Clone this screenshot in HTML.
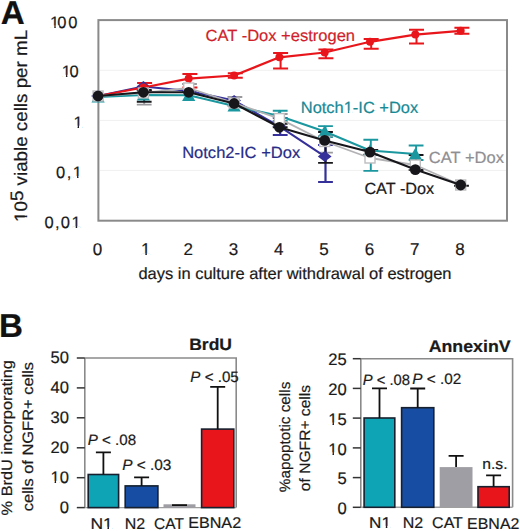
<!DOCTYPE html>
<html><head><meta charset="utf-8"><title>Figure</title><style>
html,body{margin:0;padding:0;background:#fff;width:520px;height:531px;overflow:hidden;}
svg{display:block;font-family:"Liberation Sans",sans-serif;text-rendering:geometricPrecision;}
</style></head><body>
<svg width="520" height="531" viewBox="0 0 520 531">
<rect width="520" height="531" fill="#fff"/>
<text x="0.76" y="24.30" font-size="33.2" fill="#111" stroke="#111" stroke-width="0.2" font-weight="bold">A</text>
<path d="M100 70.3H506M100 120.4H506M100 170.4H506" stroke="#f0f0f0" stroke-width="1"/>
<rect x="98.4" y="20.1" width="408.6" height="200.6" fill="none" stroke="#8a8a8a" stroke-width="2"/>
<text x="50.12" y="27.56" font-size="16.5" fill="#1a1a1a" stroke="#1a1a1a" stroke-width="0.2">1<tspan dx="-2.07">0</tspan><tspan dx="1.82">0</tspan></text><g fill="#fff"><rect x="50.68" y="25.42" width="3.60" height="3.13"/><rect x="55.73" y="25.42" width="3.47" height="3.13"/></g>
<text x="61.76" y="76.95" font-size="16.5" fill="#1a1a1a" stroke="#1a1a1a" stroke-width="0.2">1<tspan dx="-1.37">0</tspan></text><g fill="#fff"><rect x="62.32" y="74.81" width="3.60" height="3.13"/><rect x="67.37" y="74.81" width="3.47" height="3.13"/></g>
<text x="73.42" y="127.84" font-size="16.5" fill="#1a1a1a" stroke="#1a1a1a" stroke-width="0.2">1</text><g fill="#fff"><rect x="73.98" y="125.71" width="3.60" height="3.13"/><rect x="79.03" y="125.71" width="3.47" height="3.13"/></g>
<text x="55.95" y="178.20" font-size="16.5" fill="#1a1a1a" stroke="#1a1a1a" stroke-width="0.2">0<tspan dx="1.49">,</tspan><tspan dx="1.65">1</tspan></text><g fill="#fff"><rect x="73.43" y="176.07" width="3.60" height="3.13"/><rect x="78.49" y="176.07" width="3.47" height="3.13"/></g>
<text x="44.45" y="228.45" font-size="16.5" fill="#1a1a1a" stroke="#1a1a1a" stroke-width="0.2">0<tspan dx="1.39">,</tspan><tspan dx="1.15">0</tspan><tspan dx="1.6">1</tspan></text><g fill="#fff"><rect x="72.12" y="226.32" width="3.60" height="3.13"/><rect x="77.17" y="226.32" width="3.47" height="3.13"/></g>
<text x="97.50" y="255.40" font-size="17" fill="#1a1a1a" stroke="#1a1a1a" stroke-width="0.2" text-anchor="middle">0</text>
<text x="145.82" y="255.40" font-size="17" fill="#1a1a1a" stroke="#1a1a1a" stroke-width="0.2" text-anchor="middle">1</text><g fill="#fff"><rect x="141.68" y="253.23" width="3.68" height="3.17"/><rect x="146.87" y="253.23" width="3.55" height="3.17"/></g>
<text x="188.14" y="255.40" font-size="17" fill="#1a1a1a" stroke="#1a1a1a" stroke-width="0.2" text-anchor="middle">2</text>
<text x="233.46" y="255.40" font-size="17" fill="#1a1a1a" stroke="#1a1a1a" stroke-width="0.2" text-anchor="middle">3</text>
<text x="278.78" y="255.40" font-size="17" fill="#1a1a1a" stroke="#1a1a1a" stroke-width="0.2" text-anchor="middle">4</text>
<text x="324.10" y="255.40" font-size="17" fill="#1a1a1a" stroke="#1a1a1a" stroke-width="0.2" text-anchor="middle">5</text>
<text x="369.42" y="255.40" font-size="17" fill="#1a1a1a" stroke="#1a1a1a" stroke-width="0.2" text-anchor="middle">6</text>
<text x="414.74" y="255.40" font-size="17" fill="#1a1a1a" stroke="#1a1a1a" stroke-width="0.2" text-anchor="middle">7</text>
<text x="460.06" y="255.40" font-size="17" fill="#1a1a1a" stroke="#1a1a1a" stroke-width="0.2" text-anchor="middle">8</text>
<text x="138.43" y="278.67" font-size="16.3" fill="#1a1a1a" stroke="#1a1a1a" stroke-width="0.2" textLength="313.11" lengthAdjust="spacingAndGlyphs">days in culture after withdrawal of estrogen</text>
<text transform="translate(27.00,221.95) rotate(-90)" font-size="18" fill="#1a1a1a" stroke="#1a1a1a" stroke-width="0.2" textLength="192.07" lengthAdjust="spacingAndGlyphs">10<tspan dy="-4.5">5</tspan><tspan dy="4.5"> viable cells per mL</tspan></text><g fill="#fff" transform="translate(27.00,221.95) rotate(-90)"><rect x="0.73" y="-2.24" width="3.99" height="3.24"/><rect x="6.38" y="-2.24" width="3.85" height="3.24"/></g>
<path d="M280.2 110.8V121M272.8 110.8H287.6M272.8 121H287.6" stroke="#1A979F" stroke-width="1.9" fill="none"/>
<path d="M325.5 126.1V137M318.1 126.1H332.9M318.1 137H332.9" stroke="#1A979F" stroke-width="1.9" fill="none"/>
<path d="M370.8 139.7V170.9M363.4 139.7H378.2M363.4 170.9H378.2" stroke="#1A979F" stroke-width="1.9" fill="none"/>
<path d="M416.1 145.5V160M408.7 145.5H423.5M408.7 160H423.5" stroke="#1A979F" stroke-width="1.9" fill="none"/>
<path d="M144.2 90V104.6M136.8 90H151.6M136.8 104.6H151.6" stroke="#9a9a9e" stroke-width="1.9" fill="none"/>
<path d="M189.5 84V92M182.1 84H196.9M182.1 92H196.9" stroke="#9a9a9e" stroke-width="1.9" fill="none"/>
<path d="M234.9 97V106M227.5 97H242.3M227.5 106H242.3" stroke="#9a9a9e" stroke-width="1.9" fill="none"/>
<path d="M280.2 114V123M272.8 114H287.6M272.8 123H287.6" stroke="#9a9a9e" stroke-width="1.9" fill="none"/>
<path d="M325.5 136V152.6M318.1 136H332.9M318.1 152.6H332.9" stroke="#9a9a9e" stroke-width="1.9" fill="none"/>
<path d="M280.2 118V135M272.8 118H287.6M272.8 135H287.6" stroke="#35309A" stroke-width="2.2" fill="none"/>
<path d="M325.5 145V182M318.1 145H332.9M318.1 182H332.9" stroke="#35309A" stroke-width="2.2" fill="none"/>
<path d="M144.6 83V91M137.1 83H152.1M137.1 91H152.1" stroke="#E8161B" stroke-width="2.0" fill="none"/>
<path d="M189.9 74.1V87.6M182.4 74.1H197.4M182.4 87.6H197.4" stroke="#E8161B" stroke-width="2.0" fill="none"/>
<path d="M235.3 73.3V77.7M227.8 73.3H242.8M227.8 77.7H242.8" stroke="#E8161B" stroke-width="2.0" fill="none"/>
<path d="M280.6 52.9V68.5M273.1 52.9H288.1M273.1 68.5H288.1" stroke="#E8161B" stroke-width="2.0" fill="none"/>
<path d="M325.9 49.5V58.2M318.4 49.5H333.4M318.4 58.2H333.4" stroke="#E8161B" stroke-width="2.0" fill="none"/>
<path d="M371.2 39V48.7M363.7 39H378.7M363.7 48.7H378.7" stroke="#E8161B" stroke-width="2.0" fill="none"/>
<path d="M416.5 29.7V43.4M409.0 29.7H424.0M409.0 43.4H424.0" stroke="#E8161B" stroke-width="2.0" fill="none"/>
<path d="M461.9 27.7V33.8M454.4 27.7H469.4M454.4 33.8H469.4" stroke="#E8161B" stroke-width="2.0" fill="none"/>
<path d="M144.2 90V101.8M136.8 90H151.6M136.8 101.8H151.6" stroke="#17171b" stroke-width="1.9" fill="none"/>
<path d="M280.2 123.8V127.3M272.8 123.8H287.6M272.8 127.3H287.6" stroke="#17171b" stroke-width="1.9" fill="none"/>
<path d="M325.5 132V162.9M318.1 132H332.9M318.1 162.9H332.9" stroke="#17171b" stroke-width="1.9" fill="none"/>
<path d="M370.8 150V154.7M363.4 150H378.2M363.4 154.7H378.2" stroke="#17171b" stroke-width="1.9" fill="none"/>
<path d="M416.1 155V170M408.7 155H423.5M408.7 170H423.5" stroke="#17171b" stroke-width="1.9" fill="none"/>
<path d="M461.5 185.8V185.8M454.1 185.8H468.9M454.1 185.8H468.9" stroke="#17171b" stroke-width="1.9" fill="none"/>
<polyline points="98.1,96 143.4,86.5 188.7,91 234.1,100.5 279.4,126.3 324.7,156.4" fill="none" stroke="#35309A" stroke-width="2.0" stroke-linejoin="round"/>
<path d="M98.1 90.6L105.0 96L98.1 101.4L91.2 96Z" fill="#35309A"/>
<path d="M143.4 81.1L150.3 86.5L143.4 91.9L136.5 86.5Z" fill="#35309A"/>
<path d="M188.7 85.6L195.6 91L188.7 96.4L181.8 91Z" fill="#35309A"/>
<path d="M234.1 95.1L241.0 100.5L234.1 105.9L227.2 100.5Z" fill="#35309A"/>
<path d="M279.4 120.89999999999999L286.3 126.3L279.4 131.7L272.5 126.3Z" fill="#35309A"/>
<path d="M324.7 151.0L331.6 156.4L324.7 161.8L317.8 156.4Z" fill="#35309A"/>
<polyline points="98.1,97 143.4,95 188.7,95.3 234.1,106 279.4,116 324.7,131.5 370.0,150.5 415.3,154" fill="none" stroke="#1A979F" stroke-width="2.0" stroke-linejoin="round"/>
<path d="M98.1 90.8L104.7 102.6L91.5 102.6Z" fill="#1A979F"/>
<path d="M143.4 88.8L150.0 100.6L136.8 100.6Z" fill="#1A979F"/>
<path d="M188.7 89.1L195.3 100.89999999999999L182.1 100.89999999999999Z" fill="#1A979F"/>
<path d="M234.1 99.8L240.7 111.6L227.5 111.6Z" fill="#1A979F"/>
<path d="M279.4 109.8L286.0 121.6L272.8 121.6Z" fill="#1A979F"/>
<path d="M324.7 125.3L331.3 137.1L318.1 137.1Z" fill="#1A979F"/>
<path d="M370.0 144.3L376.6 156.1L363.4 156.1Z" fill="#1A979F"/>
<path d="M415.3 147.8L421.9 159.6L408.7 159.6Z" fill="#1A979F"/>
<polyline points="98.1,96 143.4,87.5 188.7,78.6 234.1,75.5 279.4,57.3 324.7,52.5 370.0,41.8 415.3,34.6 460.7,30.8" fill="none" stroke="#E8161B" stroke-width="2.2" stroke-linejoin="round"/>
<circle cx="98.1" cy="96" r="4" fill="#E8161B"/>
<circle cx="143.4" cy="87.5" r="4" fill="#E8161B"/>
<circle cx="188.7" cy="78.6" r="4" fill="#E8161B"/>
<circle cx="234.1" cy="75.5" r="4" fill="#E8161B"/>
<circle cx="279.4" cy="57.3" r="4" fill="#E8161B"/>
<circle cx="324.7" cy="52.5" r="4" fill="#E8161B"/>
<circle cx="370.0" cy="41.8" r="4" fill="#E8161B"/>
<circle cx="415.3" cy="34.6" r="4" fill="#E8161B"/>
<circle cx="460.7" cy="30.8" r="4" fill="#E8161B"/>
<polyline points="98.1,96 143.4,93 188.7,88 234.1,103 279.4,118.6 324.7,141.5 370.0,158 415.3,165 460.7,185" fill="none" stroke="#B2B2B5" stroke-width="1.8" stroke-linejoin="round"/>
<rect x="93.1" y="91" width="10" height="10" fill="#fff" stroke="#BDBDC0" stroke-width="1.4"/>
<rect x="138.4" y="88" width="10" height="10" fill="#fff" stroke="#BDBDC0" stroke-width="1.4"/>
<rect x="183.7" y="83" width="10" height="10" fill="#fff" stroke="#BDBDC0" stroke-width="1.4"/>
<rect x="229.1" y="98" width="10" height="10" fill="#fff" stroke="#BDBDC0" stroke-width="1.4"/>
<rect x="274.4" y="113.6" width="10" height="10" fill="#fff" stroke="#BDBDC0" stroke-width="1.4"/>
<rect x="319.7" y="136.5" width="10" height="10" fill="#fff" stroke="#BDBDC0" stroke-width="1.4"/>
<rect x="365.0" y="153" width="10" height="10" fill="#fff" stroke="#BDBDC0" stroke-width="1.4"/>
<rect x="410.3" y="160" width="10" height="10" fill="#fff" stroke="#BDBDC0" stroke-width="1.4"/>
<rect x="455.7" y="180" width="10" height="10" fill="#fff" stroke="#BDBDC0" stroke-width="1.4"/>
<polyline points="98.1,96 143.4,92.3 188.7,92.3 234.1,103.5 279.4,127.3 324.7,140.4 370.0,152.1 415.3,169.6 460.7,185" fill="none" stroke="#17171b" stroke-width="2.1" stroke-linejoin="round"/>
<circle cx="98.1" cy="96" r="5.4" fill="#17171b"/>
<circle cx="143.4" cy="92.3" r="5.4" fill="#17171b"/>
<circle cx="188.7" cy="92.3" r="5.4" fill="#17171b"/>
<circle cx="234.1" cy="103.5" r="5.4" fill="#17171b"/>
<circle cx="279.4" cy="127.3" r="5.4" fill="#17171b"/>
<circle cx="324.7" cy="140.4" r="5.4" fill="#17171b"/>
<circle cx="370.0" cy="152.1" r="5.4" fill="#17171b"/>
<circle cx="415.3" cy="169.6" r="5.4" fill="#17171b"/>
<circle cx="460.7" cy="185" r="5.4" fill="#17171b"/>
<text x="205.56" y="40.54" font-size="16.2" fill="#D01F2A" stroke="#D01F2A" stroke-width="0.2" textLength="149.53" lengthAdjust="spacingAndGlyphs">CAT -Dox +estrogen</text>
<text x="300.75" y="112.64" font-size="16.2" fill="#188A96" stroke="#188A96" stroke-width="0.2" textLength="117.47" lengthAdjust="spacingAndGlyphs">Notch1-IC +Dox</text><g fill="#fff"><rect x="344.27" y="110.53" width="3.59" height="3.11"/><rect x="349.31" y="110.53" width="3.46" height="3.11"/></g>
<text x="182.17" y="157.52" font-size="16.2" fill="#282D88" stroke="#282D88" stroke-width="0.2" textLength="118.01" lengthAdjust="spacingAndGlyphs">Notch2-IC +Dox</text>
<text x="428.88" y="162.52" font-size="16.2" fill="#8f8f93" stroke="#8f8f93" stroke-width="0.2" textLength="75.11" lengthAdjust="spacingAndGlyphs">CAT +Dox</text>
<text x="364.40" y="193.52" font-size="16.2" fill="#1a1a1a" stroke="#1a1a1a" stroke-width="0.2" textLength="69.80" lengthAdjust="spacingAndGlyphs">CAT -Dox</text>
<text x="-0.93" y="337.30" font-size="33.2" fill="#111" stroke="#111" stroke-width="0.2" font-weight="bold">B</text>
<path d="M84.8 358H236.2V507.6" fill="none" stroke="#8a8a8a" stroke-width="1.6"/>
<path d="M84.8 358V507.6" fill="none" stroke="#8a8a8a" stroke-width="1.6"/>
<path d="M84.8 507.6H236.2" fill="none" stroke="#a0a0a0" stroke-width="1.4"/>
<path d="M76.8 507.6H84.8" stroke="#333" stroke-width="1.5"/>
<text x="68.90" y="512.90" font-size="16.6" fill="#1a1a1a" stroke="#1a1a1a" stroke-width="0.2" text-anchor="end">0</text>
<path d="M76.8 477.7H84.8" stroke="#333" stroke-width="1.5"/>
<text x="68.90" y="483.00" font-size="16.6" fill="#1a1a1a" stroke="#1a1a1a" stroke-width="0.2" text-anchor="end">10</text><g fill="#fff"><rect x="51.00" y="480.86" width="3.61" height="3.14"/><rect x="56.07" y="480.86" width="3.48" height="3.14"/></g>
<path d="M76.8 447.8H84.8" stroke="#333" stroke-width="1.5"/>
<text x="68.90" y="453.10" font-size="16.6" fill="#1a1a1a" stroke="#1a1a1a" stroke-width="0.2" text-anchor="end">20</text>
<path d="M76.8 417.8H84.8" stroke="#333" stroke-width="1.5"/>
<text x="68.90" y="423.10" font-size="16.6" fill="#1a1a1a" stroke="#1a1a1a" stroke-width="0.2" text-anchor="end">30</text>
<path d="M76.8 387.9H84.8" stroke="#333" stroke-width="1.5"/>
<text x="68.90" y="393.20" font-size="16.6" fill="#1a1a1a" stroke="#1a1a1a" stroke-width="0.2" text-anchor="end">40</text>
<path d="M76.8 358.0H84.8" stroke="#333" stroke-width="1.5"/>
<text x="68.90" y="363.30" font-size="16.6" fill="#1a1a1a" stroke="#1a1a1a" stroke-width="0.2" text-anchor="end">50</text>
<rect x="88.2" y="474.5" width="30.4" height="33.1" fill="#0FA3B6" stroke="#16202e" stroke-width="1.6"/>
<path d="M103.4 474.5V452.3M95.9 452.3H110.9" stroke="#111" stroke-width="1.8" fill="none"/>
<rect x="125.2" y="485.9" width="32.7" height="21.7" fill="#174EA3" stroke="#16202e" stroke-width="1.6"/>
<path d="M141.6 485.9V477.4M134.1 477.4H149.1" stroke="#111" stroke-width="1.8" fill="none"/>
<rect x="163.5" y="504.3" width="32.0" height="3.3" fill="#9E9EA4"/>
<path d="M179.5 504.3V505.2M172.0 505.2H187.0" stroke="#111" stroke-width="1.8" fill="none"/>
<rect x="201.6" y="429.1" width="32.2" height="78.5" fill="#E8161B" stroke="#16202e" stroke-width="1.6"/>
<path d="M217.7 429.1V386.8M210.2 386.8H225.2" stroke="#111" stroke-width="1.8" fill="none"/>
<text x="189.19" y="350.15" font-size="16.5" fill="#1a1a1a" stroke="#1a1a1a" stroke-width="0.2" font-weight="bold" textLength="42.82" lengthAdjust="spacingAndGlyphs">BrdU</text>
<path d="M360.8 358.7H512.6V507.3" fill="none" stroke="#8a8a8a" stroke-width="1.6"/>
<path d="M360.8 358.7V507.3" fill="none" stroke="#8a8a8a" stroke-width="1.6"/>
<path d="M360.8 507.3H512.6" fill="none" stroke="#a0a0a0" stroke-width="1.4"/>
<path d="M352.8 507.3H360.8" stroke="#333" stroke-width="1.5"/>
<text x="346.80" y="513.90" font-size="16.6" fill="#1a1a1a" stroke="#1a1a1a" stroke-width="0.2" text-anchor="end">0</text>
<path d="M352.8 477.6H360.8" stroke="#333" stroke-width="1.5"/>
<text x="346.80" y="484.20" font-size="16.6" fill="#1a1a1a" stroke="#1a1a1a" stroke-width="0.2" text-anchor="end">5</text>
<path d="M352.8 447.9H360.8" stroke="#333" stroke-width="1.5"/>
<text x="346.80" y="454.50" font-size="16.6" fill="#1a1a1a" stroke="#1a1a1a" stroke-width="0.2" text-anchor="end">10</text><g fill="#fff"><rect x="328.90" y="452.36" width="3.61" height="3.14"/><rect x="333.97" y="452.36" width="3.48" height="3.14"/></g>
<path d="M352.8 418.1H360.8" stroke="#333" stroke-width="1.5"/>
<text x="346.80" y="424.70" font-size="16.6" fill="#1a1a1a" stroke="#1a1a1a" stroke-width="0.2" text-anchor="end">15</text><g fill="#fff"><rect x="328.90" y="422.56" width="3.61" height="3.14"/><rect x="333.97" y="422.56" width="3.48" height="3.14"/></g>
<path d="M352.8 388.4H360.8" stroke="#333" stroke-width="1.5"/>
<text x="346.80" y="395.00" font-size="16.6" fill="#1a1a1a" stroke="#1a1a1a" stroke-width="0.2" text-anchor="end">20</text>
<path d="M352.8 358.7H360.8" stroke="#333" stroke-width="1.5"/>
<text x="346.80" y="365.30" font-size="16.6" fill="#1a1a1a" stroke="#1a1a1a" stroke-width="0.2" text-anchor="end">25</text>
<rect x="364.1" y="418.0" width="30.7" height="89.3" fill="#0FA3B6" stroke="#16202e" stroke-width="1.6"/>
<path d="M379.5 418.0V388.3M372.0 388.3H387.0" stroke="#111" stroke-width="1.8" fill="none"/>
<rect x="401.6" y="407.7" width="32.2" height="99.6" fill="#174EA3" stroke="#16202e" stroke-width="1.6"/>
<path d="M417.7 407.7V388.5M410.2 388.5H425.2" stroke="#111" stroke-width="1.8" fill="none"/>
<rect x="439.7" y="467.1" width="32.8" height="40.2" fill="#9E9EA4"/>
<path d="M456.1 467.1V455.8M448.6 455.8H463.6" stroke="#111" stroke-width="1.8" fill="none"/>
<rect x="478.0" y="486.7" width="31.2" height="20.6" fill="#E8161B" stroke="#16202e" stroke-width="1.6"/>
<path d="M493.6 486.7V475.4M486.1 475.4H501.1" stroke="#111" stroke-width="1.8" fill="none"/>
<text x="428.65" y="351.89" font-size="16.9" fill="#1a1a1a" stroke="#1a1a1a" stroke-width="0.2" font-weight="bold" textLength="81.99" lengthAdjust="spacingAndGlyphs">AnnexinV</text>
<text x="90.44" y="528.88" font-size="15.5" fill="#1a1a1a" stroke="#1a1a1a" stroke-width="0.2" textLength="22.32" lengthAdjust="spacingAndGlyphs">N1</text><g fill="#fff"><rect x="103.67" y="526.83" width="3.77" height="3.06"/><rect x="108.98" y="526.83" width="3.63" height="3.06"/></g>
<text x="124.66" y="528.80" font-size="15.5" fill="#1a1a1a" stroke="#1a1a1a" stroke-width="0.2" textLength="20.43" lengthAdjust="spacingAndGlyphs">N2</text>
<text x="154.12" y="528.73" font-size="15.5" fill="#1a1a1a" stroke="#1a1a1a" stroke-width="0.2" textLength="29.81" lengthAdjust="spacingAndGlyphs">CAT</text>
<text x="188.19" y="528.20" font-size="15.5" fill="#1a1a1a" stroke="#1a1a1a" stroke-width="0.2" textLength="52.93" lengthAdjust="spacingAndGlyphs">EBNA2</text>
<text x="369.09" y="527.98" font-size="15.5" fill="#1a1a1a" stroke="#1a1a1a" stroke-width="0.2" textLength="21.93" lengthAdjust="spacingAndGlyphs">N1</text><g fill="#fff"><rect x="382.07" y="525.92" width="3.71" height="3.06"/><rect x="387.30" y="525.92" width="3.58" height="3.06"/></g>
<text x="402.78" y="527.80" font-size="15.5" fill="#1a1a1a" stroke="#1a1a1a" stroke-width="0.2" textLength="20.46" lengthAdjust="spacingAndGlyphs">N2</text>
<text x="432.10" y="528.08" font-size="15.5" fill="#1a1a1a" stroke="#1a1a1a" stroke-width="0.2" textLength="30.80" lengthAdjust="spacingAndGlyphs">CAT</text>
<text x="467.13" y="528.60" font-size="15.5" fill="#1a1a1a" stroke="#1a1a1a" stroke-width="0.2" textLength="52.25" lengthAdjust="spacingAndGlyphs">EBNA2</text>
<text x="87.78" y="445.39" font-size="15" fill="#1a1a1a" stroke="#1a1a1a" stroke-width="0.2" textLength="48.38" lengthAdjust="spacingAndGlyphs"><tspan font-style="italic">P</tspan> &lt; .08</text>
<text x="122.17" y="470.19" font-size="15" fill="#1a1a1a" stroke="#1a1a1a" stroke-width="0.2" textLength="49.24" lengthAdjust="spacingAndGlyphs"><tspan font-style="italic">P</tspan> &lt; .03</text>
<text x="190.37" y="382.35" font-size="15" fill="#1a1a1a" stroke="#1a1a1a" stroke-width="0.2" textLength="48.40" lengthAdjust="spacingAndGlyphs"><tspan font-style="italic">P</tspan> &lt; .05</text>
<text x="362.84" y="384.55" font-size="15" fill="#1a1a1a" stroke="#1a1a1a" stroke-width="0.2" textLength="47.23" lengthAdjust="spacingAndGlyphs"><tspan font-style="italic">P</tspan> &lt; .08</text>
<text x="412.17" y="384.12" font-size="15" fill="#1a1a1a" stroke="#1a1a1a" stroke-width="0.2" textLength="49.04" lengthAdjust="spacingAndGlyphs"><tspan font-style="italic">P</tspan> &lt; .02</text>
<text x="482.26" y="469.19" font-size="15" fill="#1a1a1a" stroke="#1a1a1a" stroke-width="0.2" textLength="25.27" lengthAdjust="spacingAndGlyphs">n.s.</text>
<text transform="translate(12.34,515.39) rotate(-90)" font-size="15" fill="#1a1a1a" stroke="#1a1a1a" stroke-width="0.2" textLength="155.21" lengthAdjust="spacingAndGlyphs">% BrdU incorporating</text>
<text transform="translate(32.64,511.22) rotate(-90)" font-size="15" fill="#1a1a1a" stroke="#1a1a1a" stroke-width="0.2" textLength="149.28" lengthAdjust="spacingAndGlyphs">cells of NGFR+ cells</text>
<text transform="translate(289.73,492.21) rotate(-90)" font-size="15" fill="#1a1a1a" stroke="#1a1a1a" stroke-width="0.2" textLength="110.50" lengthAdjust="spacingAndGlyphs">%apoptotic cells</text>
<text transform="translate(310.04,491.16) rotate(-90)" font-size="15" fill="#1a1a1a" stroke="#1a1a1a" stroke-width="0.2" textLength="106.23" lengthAdjust="spacingAndGlyphs">of NGFR+ cells</text>
</svg>
</body></html>
